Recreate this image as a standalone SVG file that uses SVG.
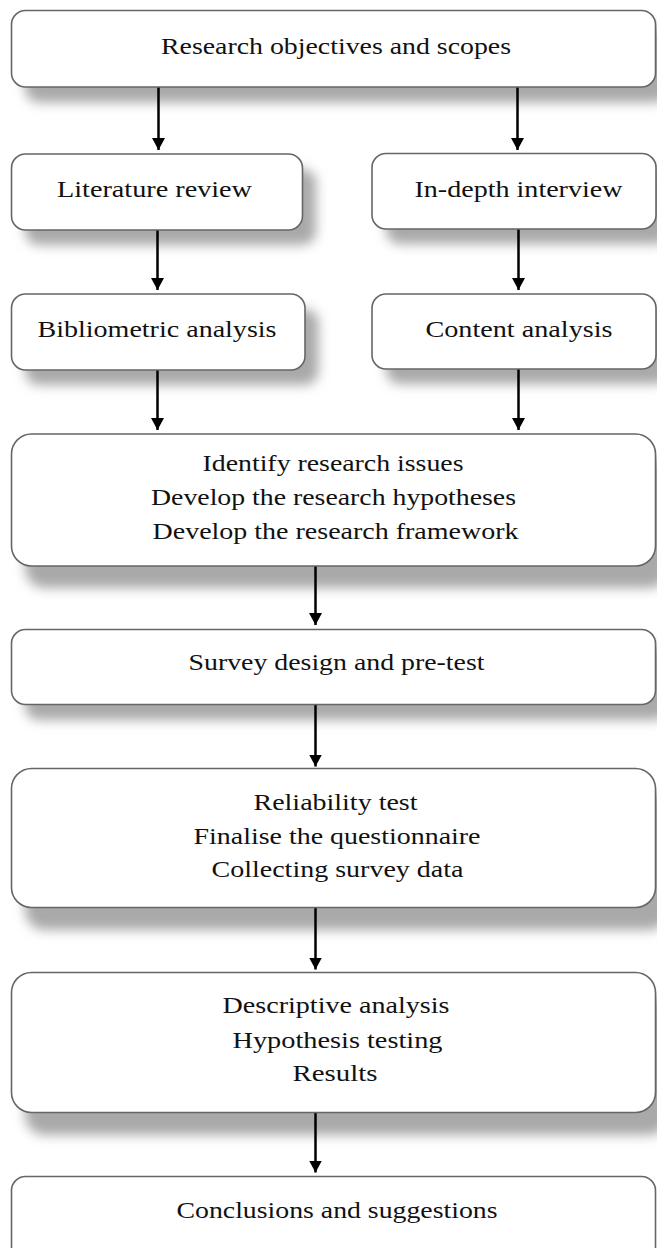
<svg xmlns="http://www.w3.org/2000/svg" width="657" height="1248" viewBox="0 0 657 1248">
  <style>
    .box { fill: #ffffff; stroke: #666666; stroke-width: 1.6; }
    .shadow { fill: #a9a9a9; filter: url(#blur); }
    .lbl { font-family: "Liberation Serif", "Times New Roman", serif; font-size: 24px; fill: #111111; }
    .conn { stroke: #000000; stroke-width: 2.5; fill: none; marker-end: url(#arrow); }
  </style>
  <defs>
    <filter id="blur" x="-10%" y="-40%" width="120%" height="180%">
      <feGaussianBlur stdDeviation="6"/>
    </filter>
    <marker id="arrow" markerUnits="userSpaceOnUse" markerWidth="14" markerHeight="14" viewBox="0 0 14 14" refX="12" refY="7" orient="auto">
      <path d="M0,0.5 L12,7 L0,13.5 Z" fill="#000000"/>
    </marker>
  </defs>
  <rect width="657" height="1248" fill="#ffffff"/>

  <g id="shadows">
    <rect class="shadow" x="25" y="26" width="644" height="76.5" rx="14"/>
    <rect class="shadow" x="25" y="169" width="291" height="76" rx="14"/>
    <rect class="shadow" x="386" y="168.5" width="284" height="75.5" rx="14"/>
    <rect class="shadow" x="25" y="309" width="293.5" height="76" rx="14"/>
    <rect class="shadow" x="386" y="309" width="284" height="75" rx="14"/>
    <rect class="shadow" x="25" y="456" width="644" height="132" rx="20"/>
    <rect class="shadow" x="25" y="645" width="644" height="75" rx="14"/>
    <rect class="shadow" x="25" y="791" width="644" height="139" rx="20"/>
    <rect class="shadow" x="25" y="995" width="644" height="140" rx="20"/>
  </g>

  <g id="connectors">
    <line class="conn" x1="158.5" y1="87" x2="158.5" y2="150"/>
    <line class="conn" x1="517.5" y1="87" x2="517.5" y2="150"/>
    <line class="conn" x1="157.5" y1="230" x2="157.5" y2="290"/>
    <line class="conn" x1="518.5" y1="229" x2="518.5" y2="290"/>
    <line class="conn" x1="157.5" y1="370" x2="157.5" y2="430"/>
    <line class="conn" x1="518.5" y1="369" x2="518.5" y2="430"/>
    <line class="conn" x1="315.5" y1="566" x2="315.5" y2="625"/>
    <line class="conn" x1="315.5" y1="704.5" x2="315.5" y2="766.5"/>
    <line class="conn" x1="315.5" y1="907.5" x2="315.5" y2="969.5"/>
    <line class="conn" x1="315.5" y1="1112.5" x2="315.5" y2="1172.5"/>
  </g>

  <g id="n-objectives">
    <rect class="box" x="11.5" y="10.5" width="644" height="76.5" rx="14"/>
    <text class="lbl" x="161" y="54" textLength="350" lengthAdjust="spacingAndGlyphs">Research objectives and scopes</text>
  </g>
  <g id="n-literature">
    <rect class="box" x="11.5" y="154" width="291" height="76" rx="14"/>
    <text class="lbl" x="57" y="197" textLength="195" lengthAdjust="spacingAndGlyphs">Literature review</text>
  </g>
  <g id="n-interview">
    <rect class="box" x="372" y="153.5" width="284" height="75.5" rx="14"/>
    <text class="lbl" x="414.5" y="197" textLength="208" lengthAdjust="spacingAndGlyphs">In-depth interview</text>
  </g>
  <g id="n-bibliometric">
    <rect class="box" x="11.5" y="294" width="293.5" height="76" rx="14"/>
    <text class="lbl" x="37.5" y="337" textLength="239" lengthAdjust="spacingAndGlyphs">Bibliometric analysis</text>
  </g>
  <g id="n-content">
    <rect class="box" x="372" y="294" width="284" height="75" rx="14"/>
    <text class="lbl" x="425.5" y="337" textLength="187" lengthAdjust="spacingAndGlyphs">Content analysis</text>
  </g>
  <g id="n-identify">
    <rect class="box" x="11.5" y="434" width="644" height="132" rx="20"/>
    <text class="lbl" x="202.5" y="471" textLength="261" lengthAdjust="spacingAndGlyphs">Identify research issues</text>
    <text class="lbl" x="151" y="505" textLength="365" lengthAdjust="spacingAndGlyphs">Develop the research hypotheses</text>
    <text class="lbl" x="152.5" y="538.5" textLength="366" lengthAdjust="spacingAndGlyphs">Develop the research framework</text>
  </g>
  <g id="n-survey">
    <rect class="box" x="11.5" y="629.5" width="644" height="75" rx="14"/>
    <text class="lbl" x="188.5" y="670" textLength="296" lengthAdjust="spacingAndGlyphs">Survey design and pre-test</text>
  </g>
  <g id="n-reliability">
    <rect class="box" x="11.5" y="768.5" width="644" height="139" rx="20"/>
    <text class="lbl" x="253.5" y="809.5" textLength="164" lengthAdjust="spacingAndGlyphs">Reliability test</text>
    <text class="lbl" x="193.5" y="843.5" textLength="287" lengthAdjust="spacingAndGlyphs">Finalise the questionnaire</text>
    <text class="lbl" x="211.5" y="877" textLength="252" lengthAdjust="spacingAndGlyphs">Collecting survey data</text>
  </g>
  <g id="n-descriptive">
    <rect class="box" x="11.5" y="972.5" width="644" height="140" rx="20"/>
    <text class="lbl" x="222.5" y="1013" textLength="227" lengthAdjust="spacingAndGlyphs">Descriptive analysis</text>
    <text class="lbl" x="232.5" y="1047.5" textLength="210" lengthAdjust="spacingAndGlyphs">Hypothesis testing</text>
    <text class="lbl" x="292.5" y="1080.5" textLength="85" lengthAdjust="spacingAndGlyphs">Results</text>
  </g>
  <g id="n-conclusions">
    <rect class="box" x="11.5" y="1176.5" width="644" height="90" rx="14"/>
    <text class="lbl" x="176.5" y="1218" textLength="321" lengthAdjust="spacingAndGlyphs">Conclusions and suggestions</text>
  </g>
</svg>
